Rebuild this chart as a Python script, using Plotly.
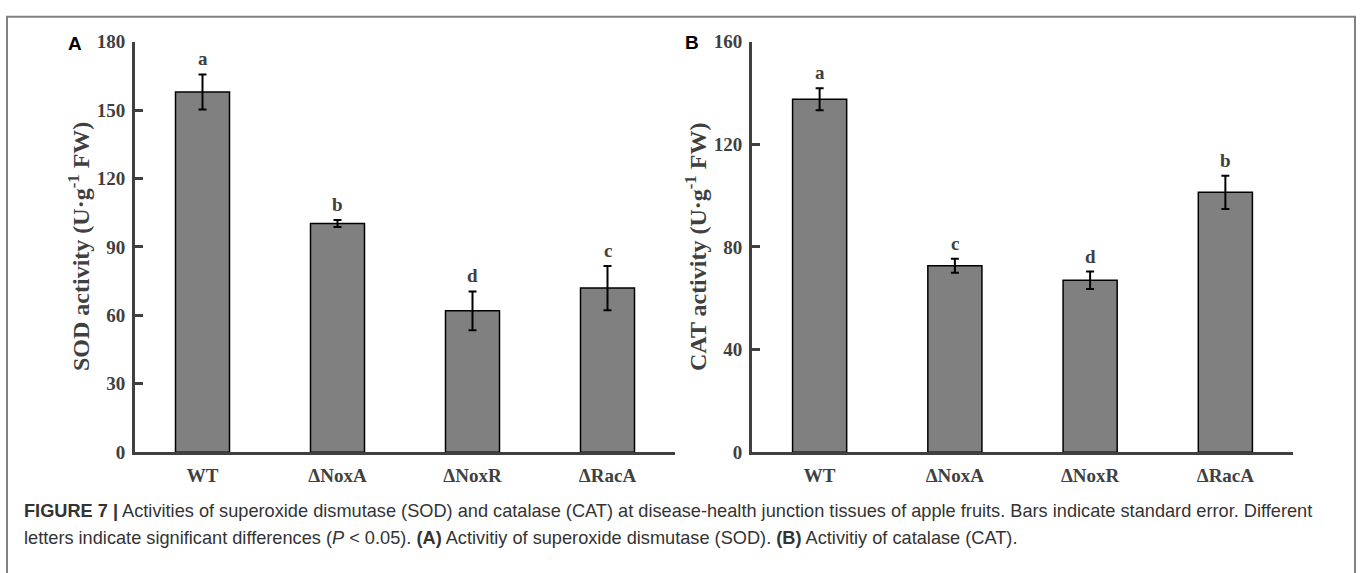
import plotly.graph_objects as go

# ---- data ----
categories = ["WT", "ΔNoxA", "ΔNoxR", "ΔRacA"]
sod_mean = [158.0, 100.3, 62.0, 72.0]
sod_err = [7.7, 1.5, 8.5, 9.7]
sod_letters = ["a", "b", "d", "c"]
cat_mean = [137.6, 72.7, 67.0, 101.3]
cat_err = [4.3, 2.75, 3.4, 6.5]
cat_letters = ["a", "c", "d", "b"]
sod_ticks = [0, 30, 60, 90, 120, 150, 180]
cat_ticks = [0, 40, 80, 120, 160]

W, H = 1360, 573
SERIF = "Liberation Serif, Times New Roman, serif"
SANS = "Liberation Sans, Arial, sans-serif"
AX = "#404040"
BAR = "#808080"

fig = go.Figure()
for xa, ya, mean, err in [("x", "y", sod_mean, sod_err), ("x2", "y2", cat_mean, cat_err)]:
    fig.add_trace(go.Bar(
        x=categories, y=mean, xaxis=xa, yaxis=ya, width=0.4,
        marker=dict(color=BAR, line=dict(color="black", width=1.5)),
        error_y=dict(type="data", array=err, visible=True, color="black", thickness=2, width=4),
        showlegend=False, hoverinfo="skip",
    ))

annotations = []
for xr, yr, mean, err, letters in [("x", "y", sod_mean, sod_err, sod_letters),
                                   ("x2", "y2", cat_mean, cat_err, cat_letters)]:
    for c, m, e, l in zip(categories, mean, err, letters):
        annotations.append(dict(x=c, y=m + e, xref=xr, yref=yr, text=l, showarrow=False,
                                yanchor="bottom", yshift=3,
                                font=dict(family=SERIF, size=19, color=AX, weight="bold")))

# y-axis titles
y_mid = 1 - 246 / H
for xc, txt in [(79, "SOD activity (U·g<sup>-1</sup> FW)"), (696, "CAT activity (U·g<sup>-1</sup> FW)")]:
    annotations.append(dict(x=xc / W, y=y_mid, xref="paper", yref="paper", text=txt,
                            textangle=-90, showarrow=False, xanchor="center", yanchor="middle",
                            font=dict(family=SERIF, size=24, color=AX, weight="bold")))

# panel labels
annotations.append(dict(x=75 / W, y=1 - 34.5 / H, xref="paper", yref="paper", text="<b>A</b>",
                        showarrow=False, xanchor="center", yanchor="middle",
                        font=dict(family=SANS, size=19, color="black")))
annotations.append(dict(x=691.5 / W, y=1 - 34 / H, xref="paper", yref="paper", text="<b>B</b>",
                        showarrow=False, xanchor="center", yanchor="middle",
                        font=dict(family=SANS, size=19, color="black")))

cap1 = ("<b>FIGURE 7 |</b> Activities of superoxide dismutase (SOD) and catalase (CAT) at "
        "disease-health junction tissues of apple fruits. Bars indicate standard error. Different")
cap2 = ("letters indicate significant differences (<i>P</i> &lt; 0.05). <b>(A)</b> Activitiy of "
        "superoxide dismutase (SOD). <b>(B)</b> Activitiy of catalase (CAT).")
for txt, yc in [(cap1, 520), (cap2, 548)]:
    annotations.append(dict(x=22 / W, y=1 - yc / H, xref="paper", yref="paper", text=txt,
                            showarrow=False, xanchor="left", yanchor="middle", align="left",
                            font=dict(family=SANS, size=18.2, color="#333333")))

y_dom = [1 - 459 / H, 1 - 33 / H]
common_x = dict(type="category", range=[-0.5, 3.5], showline=True, linecolor=AX, linewidth=3,
                ticks="", showgrid=False, zeroline=False, ticklabelstandoff=4,
                tickfont=dict(family=SERIF, size=19, color=AX, weight="bold"))
common_y = dict(showline=True, linecolor=AX, linewidth=3, ticks="inside", ticklen=8, tickwidth=3,
                tickcolor=AX, showgrid=False, zeroline=False, ticklabelstandoff=3,
                tickfont=dict(family=SERIF, size=19, color=AX, weight="bold"))

fig.update_layout(
    width=W, height=H, margin=dict(l=0, r=0, t=0, b=0),
    paper_bgcolor="white", plot_bgcolor="white", bargap=0.6,
    xaxis=dict(domain=[135 / W, 675 / W], anchor="y", **common_x),
    yaxis=dict(domain=y_dom, anchor="x", range=[0, 180], tickvals=sod_ticks, **common_y),
    xaxis2=dict(domain=[752 / W, 1293 / W], anchor="y2", **common_x),
    yaxis2=dict(domain=y_dom, anchor="x2", range=[0, 160], tickvals=cat_ticks, **common_y),
    annotations=annotations,
    shapes=[dict(type="rect", xref="paper", yref="paper", x0=7 / W, x1=1355 / W,
                 y0=-0.2, y1=1 - 7 / H, line=dict(color="#808080", width=2),
                 fillcolor="rgba(0,0,0,0)", layer="above")],
)

fig.write_html("out.html")
